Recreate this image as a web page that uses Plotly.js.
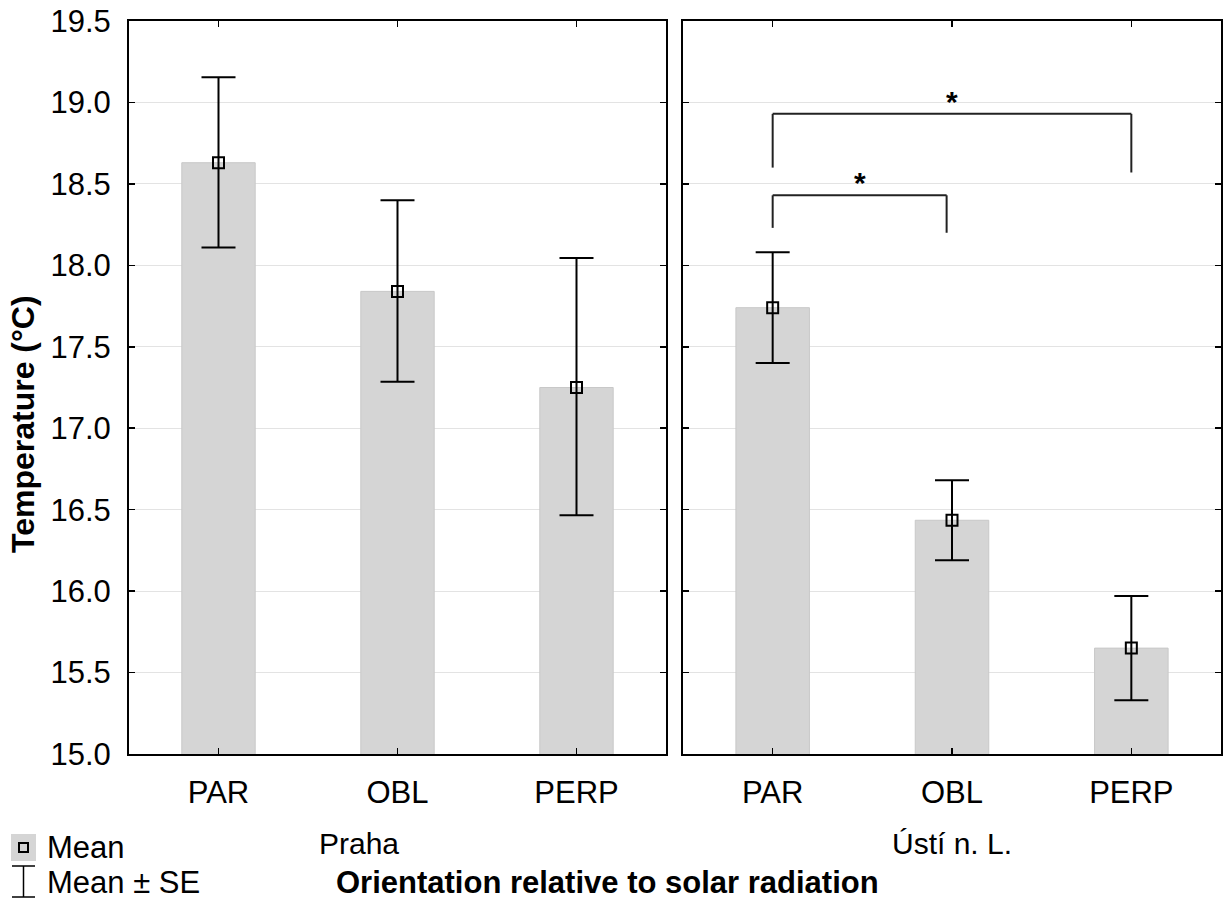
<!DOCTYPE html>
<html>
<head>
<meta charset="utf-8">
<script src="https://cdn.plot.ly/plotly-3.0.1.min.js"></script>
<style>html,body{margin:0;padding:0;background:#fff;}#chart{width:1227px;height:902px;}</style>
</head>
<body>
<div id="chart"></div>
<script>
// ---- data ----
const categories = ["PAR", "OBL", "PERP"];
const prahaMean  = [18.63, 17.84, 17.25];
const prahaUpper = [19.155, 18.40, 18.045];
const prahaLower = [18.11, 17.285, 16.465];
const ustiMean   = [17.74, 16.435, 15.65];
const ustiUpper  = [18.08, 16.68, 15.97];
const ustiLower  = [17.40, 16.19, 15.33];
const panelLabels = ["Praha", "Ústí n. L."];
// significance brackets in Ústí panel: [from index, to index, top, left end, right end]
const brackets = [
  [0, 2, 18.93, 18.60, 18.57],
  [0, 0.97, 18.43, 18.23, 18.20]
];

const FONT = "Liberation Sans, Arial, Helvetica, sans-serif";
const barColor = "#d5d5d5";
const TXT = 30;

function panel(mean, up, lo, xa, ya) {
  return [
    {type: "bar", x: categories, y: mean, xaxis: xa, yaxis: ya, width: 0.41,
     marker: {color: barColor, line: {color: "#c8c8c8", width: 1}}, hoverinfo: "skip", showlegend: false},
    {type: "scatter", mode: "markers", x: categories, y: mean, xaxis: xa, yaxis: ya,
     marker: {symbol: "square-open", size: 11, color: "#000", line: {width: 2, color: "#000"}},
     error_y: {type: "data", symmetric: false,
               array: up.map((u, i) => u - mean[i]),
               arrayminus: lo.map((l, i) => mean[i] - l),
               color: "#000", thickness: 2, width: 17},
     showlegend: false}
  ];
}

const data = [].concat(
  panel(prahaMean, prahaUpper, prahaLower, "x", "y"),
  panel(ustiMean, ustiUpper, ustiLower, "x2", "y2")
);

const xCommon = {
  type: "category", range: [-0.5, 2.5], showline: true, linecolor: "#000", linewidth: 2,
  mirror: "ticks", ticks: "inside", ticklen: 6, tickwidth: 1.5, tickcolor: "#000",
  showgrid: false, zeroline: false, tickfont: {family: FONT, size: 31, color: "#000"},
  ticklabelstandoff: 10, fixedrange: true
};
const yCommon = {
  range: [15, 19.5], dtick: 0.5, tick0: 15, tickformat: ".1f", showline: true,
  linecolor: "#000", linewidth: 2, mirror: "ticks", ticks: "inside", ticklen: 6,
  tickwidth: 1.5, tickcolor: "#000", showgrid: true, gridcolor: "#e3e3e3", gridwidth: 1,
  zeroline: false, tickfont: {family: FONT, size: 31, color: "#000"}, fixedrange: true
};

const shapes = [];
const annotations = [];
brackets.forEach(b => {
  const [a, c, top, le, re] = b;
  const ln = {color: "#222", width: 2};
  shapes.push({type: "line", xref: "x2", yref: "y2", x0: a, x1: c, y0: top, y1: top, line: ln});
  shapes.push({type: "line", xref: "x2", yref: "y2", x0: a, x1: a, y0: top, y1: le, line: ln});
  shapes.push({type: "line", xref: "x2", yref: "y2", x0: c, x1: c, y0: top, y1: re, line: ln});
  annotations.push({xref: "x2", yref: "y2", x: (a + c) / 2, y: top, text: "<b>*</b>",
    showarrow: false, yanchor: "bottom", yshift: -6, font: {family: FONT, size: 30, color: "#000"}});
});

const px = v => (v - 129) / 1092, py = v => (754 - v) / 733;
// y axis title
annotations.push({xref: "paper", yref: "paper", x: px(23), y: py(424), textangle: -90,
  text: "<b>Temperature (°C)</b>", showarrow: false, xanchor: "center", yanchor: "middle",
  font: {family: FONT, size: 32, color: "#000"}});
// panel labels
annotations.push({xref: "paper", yref: "paper", x: px(359), y: py(843),
  text: panelLabels[0], showarrow: false, xanchor: "center", yanchor: "middle",
  font: {family: FONT, size: TXT, color: "#000"}});
annotations.push({xref: "paper", yref: "paper", x: px(952), y: py(843),
  text: panelLabels[1], showarrow: false, xanchor: "center", yanchor: "middle",
  font: {family: FONT, size: TXT, color: "#000"}});
// x axis title
annotations.push({xref: "paper", yref: "paper", x: px(607), y: py(882),
  text: "<b>Orientation relative to solar radiation</b>", showarrow: false,
  xanchor: "center", yanchor: "middle", font: {family: FONT, size: 31, color: "#000"}});
// legend
annotations.push({xref: "paper", yref: "paper", x: px(45), y: py(848),
  text: "Mean", showarrow: false, xanchor: "left", yanchor: "middle",
  font: {family: FONT, size: 31, color: "#000"}});
annotations.push({xref: "paper", yref: "paper", x: px(45), y: py(882),
  text: "Mean ± SE", showarrow: false, xanchor: "left", yanchor: "middle",
  font: {family: FONT, size: 31, color: "#000"}});
shapes.push({type: "rect", xref: "paper", yref: "paper", x0: px(11), x1: px(36), y0: py(834), y1: py(861),
  fillcolor: barColor, line: {width: 0}});
shapes.push({type: "rect", xref: "paper", yref: "paper", x0: px(19), x1: px(28), y0: py(843), y1: py(852),
  fillcolor: "rgba(0,0,0,0)", line: {color: "#000", width: 2}});
shapes.push({type: "line", xref: "paper", yref: "paper", x0: px(23.5), x1: px(23.5), y0: py(866), y1: py(897), line: {color: "#000", width: 1.5}});
shapes.push({type: "line", xref: "paper", yref: "paper", x0: px(12), x1: px(35), y0: py(866), y1: py(866), line: {color: "#000", width: 1.5}});
shapes.push({type: "line", xref: "paper", yref: "paper", x0: px(12), x1: px(35), y0: py(897), y1: py(897), line: {color: "#000", width: 1.5}});

const layout = {
  width: 1227, height: 902,
  margin: {l: 129, r: 6, t: 21, b: 148},
  paper_bgcolor: "#fff", plot_bgcolor: "#fff",
  showlegend: false, bargap: 0,
  font: {family: FONT, color: "#000"},
  xaxis: Object.assign({}, xCommon, {domain: [0, (666 - 129) / 1092], anchor: "y"}),
  xaxis2: Object.assign({}, xCommon, {domain: [(683 - 129) / 1092, 1], anchor: "y2"}),
  yaxis: Object.assign({}, yCommon, {anchor: "x", ticklabelstandoff: 10}),
  yaxis2: Object.assign({}, yCommon, {anchor: "x2", matches: "y", showticklabels: false}),
  shapes: shapes,
  annotations: annotations
};

Plotly.newPlot("chart", data, layout, {staticPlot: true, displayModeBar: false});
</script>
</body>
</html>
